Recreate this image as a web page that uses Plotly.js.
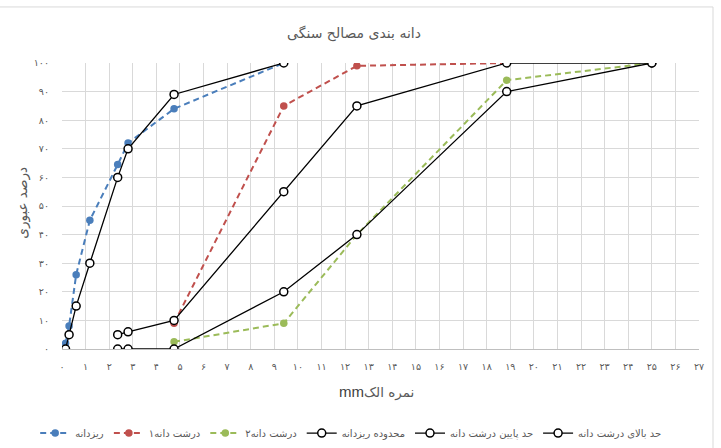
<!DOCTYPE html>
<html>
<head>
<meta charset="utf-8">
<script src="https://cdn.plot.ly/plotly-3.0.1.min.js"></script>
<style>
  html, body { margin: 0; padding: 0; background: #ffffff; }
  #chart { width: 721px; height: 448px; }
</style>
</head>
<body>
<div id="chart"></div>
<script>
// Sieve sizes (mm)
const sieveFine = [0.15, 0.3, 0.6, 1.18, 2.36, 2.8, 4.75, 9.4];
const sieveCoarse = [2.36, 2.8, 4.75, 9.4, 12.5, 18.85, 25];
const sieveCoarse1 = [4.75, 9.4, 12.5, 18.85];
const sieveCoarse2 = [4.75, 9.4, 12.5, 18.85, 25];

// Percent passing
const fineAgg = [2, 8, 26, 45, 64.5, 72, 84, 100];
const coarseAgg1 = [9, 85, 99, 100];
const coarseAgg2 = [2.5, 9, 40, 94, 100];
const fineEnvelope = [0, 5, 15, 30, 60, 70, 89, 100];
const coarseLower = [0, 0, 0, 20, 40, 90, 100];
const coarseUpper = [5, 6, 10, 55, 85, 100, 100];

// Series names
const seriesNames = ['ریزدانه', 'درشت دانه۱', 'درشت دانه۲', 'محدوده ریزدانه', 'حد پایین درشت دانه', 'حد بالای درشت دانه'];

// Axis ticks
const xTickVals = [0,1,2,3,4,5,6,7,8,9,10,11,12,13,14,15,16,17,18,19,20,21,22,23,24,25,26,27];
const xTickText = ['۰','۱','۲','۳','۴','۵','۶','۷','۸','۹','۱۰','۱۱','۱۲','۱۳','۱۴','۱۵','۱۶','۱۷','۱۸','۱۹','۲۰','۲۱','۲۲','۲۳','۲۴','۲۵','۲۶','۲۷'];
const yTickVals = [0,10,20,30,40,50,60,70,80,90,100];
const yTickText = ['۰','۱۰','۲۰','۳۰','۴۰','۵۰','۶۰','۷۰','۸۰','۹۰','۱۰۰'];

const chartTitle = 'دانه بندی مصالح سنگی';
const yTitle = 'درصد عبوری';
const xTitle = 'نمره الک';
const xUnit = 'mm';

const FONT = 'DejaVu Sans, Noto Sans, sans-serif';
const TEXT_GREY = '#595959';

function dashedSeries(x, y, name, color) {
  return {
    type: 'scatter', mode: 'lines+markers', x: x, y: y, name: name,
    line: { color: color, width: 2, dash: '6px,4px' },
    marker: { color: color, size: 7.5, symbol: 'circle' },
    hoverinfo: 'skip'
  };
}
function limitSeries(x, y, name) {
  return {
    type: 'scatter', mode: 'lines+markers', x: x, y: y, name: name,
    line: { color: '#000000', width: 1.3 },
    marker: { color: '#ffffff', size: 8, symbol: 'circle', line: { color: '#000000', width: 1.5 } },
    hoverinfo: 'skip'
  };
}

const data = [
  dashedSeries(sieveFine, fineAgg, seriesNames[0], '#4a7ebb'),
  dashedSeries(sieveCoarse1, coarseAgg1, seriesNames[1], '#c0504d'),
  dashedSeries(sieveCoarse2, coarseAgg2, seriesNames[2], '#9bbb59'),
  limitSeries(sieveFine, fineEnvelope, seriesNames[3]),
  limitSeries(sieveCoarse, coarseLower, seriesNames[4]),
  limitSeries(sieveCoarse, coarseUpper, seriesNames[5])
];

const layout = {
  width: 721, height: 448,
  margin: { l: 62, r: 22, t: 63, b: 99, autoexpand: false },
  paper_bgcolor: '#ffffff', plot_bgcolor: '#ffffff',
  font: { family: FONT, color: TEXT_GREY, size: 11 },
  showlegend: true,
  title: {
    text: chartTitle,
    font: { family: FONT, size: 14, color: TEXT_GREY },
    x: 0.491, xref: 'container', xanchor: 'center',
    y: 0.926, yref: 'container', yanchor: 'middle'
  },
  xaxis: {
    range: [0, 27], tickmode: 'array', tickvals: xTickVals, ticktext: xTickText,
    showgrid: true, gridcolor: '#d9d9d9', gridwidth: 1, zeroline: false,
    showline: true, linecolor: '#bfbfbf', linewidth: 1,
    ticks: '', ticklabelstandoff: 9,
    tickfont: { family: FONT, size: 9.5, color: TEXT_GREY },
    fixedrange: true
  },
  yaxis: {
    range: [0, 100], tickmode: 'array', tickvals: yTickVals, ticktext: yTickText,
    showgrid: true, gridcolor: '#d9d9d9', gridwidth: 1, zeroline: false,
    showline: false, ticks: '', ticklabelstandoff: 12,
    tickfont: { family: FONT, size: 9.5, color: TEXT_GREY },
    fixedrange: true
  },
  legend: {
    orientation: 'h', x: 0.454, xanchor: 'center', y: -0.294, yanchor: 'middle',
    font: { family: FONT, size: 10, color: TEXT_GREY },
    itemwidth: 30, bgcolor: 'rgba(0,0,0,0)', traceorder: 'normal'
  },
  annotations: [
    {
      text: yTitle, textangle: -90, showarrow: false,
      xref: 'paper', yref: 'paper', x: -0.062, y: 0.51, xanchor: 'center', yanchor: 'middle',
      font: { family: FONT, size: 13.5, color: TEXT_GREY }
    },
    {
      text: '<span style="font-family:Liberation Sans, Arial, sans-serif;font-size:15px;color:#404040">' + xUnit + '</span>' + xTitle,
      showarrow: false,
      xref: 'paper', yref: 'paper', x: 0.493, y: -0.150, xanchor: 'center', yanchor: 'middle',
      font: { family: FONT, size: 13.5, color: TEXT_GREY }
    }
  ],
  shapes: [
    {
      type: 'rect', xref: 'paper', yref: 'paper',
      x0: -0.12, x1: 1.022, y0: -0.4, y1: 1.196,
      line: { color: '#d9d9d9', width: 1 }, fillcolor: 'rgba(0,0,0,0)', layer: 'below'
    }
  ]
};

Plotly.newPlot('chart', data, layout, { staticPlot: true, displayModeBar: false });
</script>
</body>
</html>
